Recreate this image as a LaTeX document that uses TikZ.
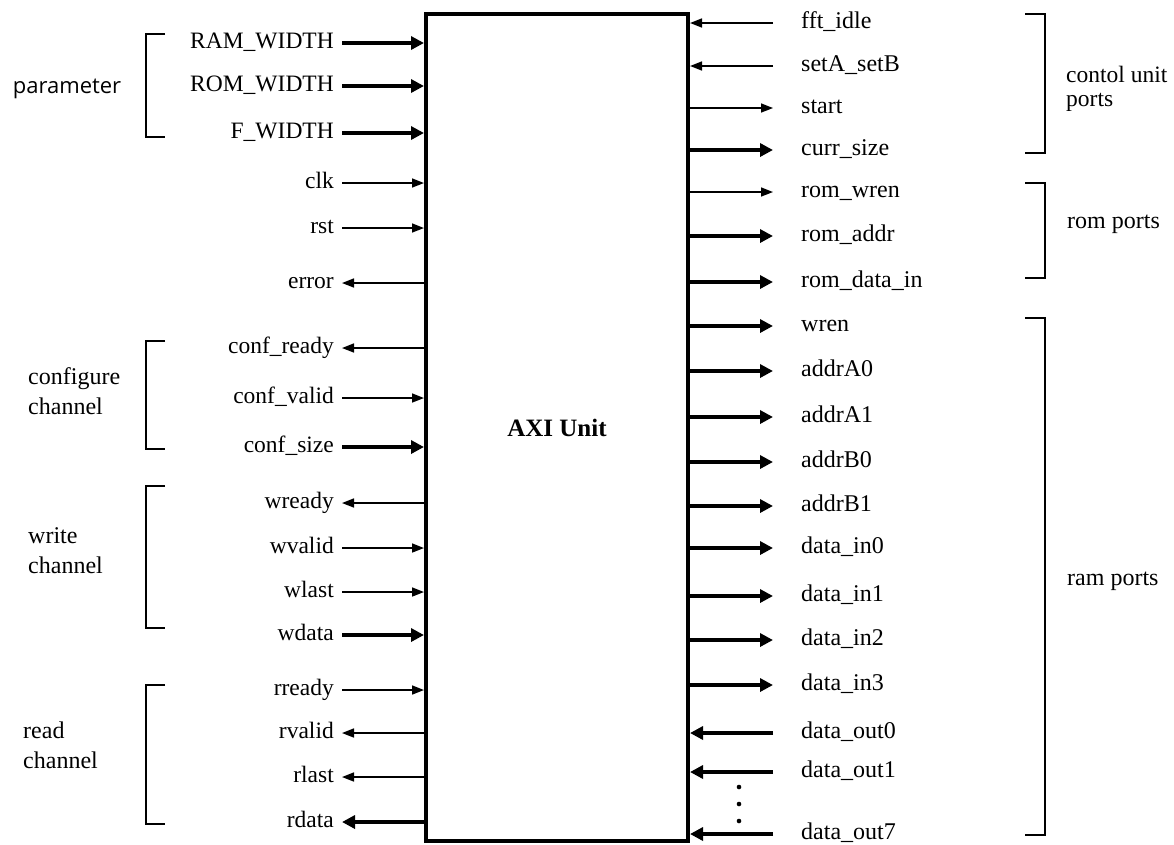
\documentclass[tikz,border=0pt]{standalone}
\usepackage{fontspec}
\setmainfont{Liberation Serif}
\newfontfamily\grpsans{Open Sans}
\usetikzlibrary{arrows.meta,positioning}
\tikzset{
  unitbox/.style={draw,line width=4pt,minimum width=262pt,minimum height=827pt,inner sep=0pt,font=\fontsize{25}{28}\selectfont\bfseries},
  lport/.style={anchor=east,inner xsep=8pt,inner ysep=0pt,text height=10pt,text depth=0pt,font=\fontsize{23.5}{28}\selectfont},
  rport/.style={anchor=west,inner xsep=28pt,inner ysep=0pt,text height=10pt,text depth=0pt,font=\fontsize{24}{28}\selectfont},
  grplabel/.style={align=left,inner sep=0pt,font=\fontsize{24}{30}\selectfont},
  sig/.style={line width=1.6pt,-{Triangle[length=12pt,width=9pt]}},
  bus/.style={line width=4.5pt,-{Triangle[length=13pt,width=13pt]}},
  brk/.style={line width=1.4pt},
}
\begin{document}
\begin{tikzpicture}[x=1pt,y=-1pt]
\useasboundingbox (0,0) rectangle (1174,844);

\node[unitbox] (axi) at (557,427.5) {AXI Unit};

% left side ports
\node[lport] (ramw) at (342,43) {RAM\_WIDTH};
\node[lport] (romw) at (342,86) {ROM\_WIDTH};
\node[lport] (fw) at (342,133) {F\_WIDTH};
\node[lport] (clk) at (342,183) {clk};
\node[lport] (rst) at (342,228) {rst};
\node[lport] (err) at (342,283) {error};
\node[lport] (confready) at (342,348) {conf\_ready};
\node[lport] (confvalid) at (342,398) {conf\_valid};
\node[lport] (confsize) at (342,447) {conf\_size};
\node[lport] (wready) at (342,503) {wready};
\node[lport] (wvalid) at (342,548) {wvalid};
\node[lport] (wlast) at (342,592) {wlast};
\node[lport] (wdata) at (342,635) {wdata};
\node[lport] (rready) at (342,690) {rready};
\node[lport] (rvalid) at (342,733) {rvalid};
\node[lport] (rlast) at (342,777) {rlast};
\node[lport] (rdata) at (342,822) {rdata};

\draw[bus] (ramw) -- (ramw -| axi.west);
\draw[bus] (romw) -- (romw -| axi.west);
\draw[bus] (fw) -- (fw -| axi.west);
\draw[sig] (clk) -- (clk -| axi.west);
\draw[sig] (rst) -- (rst -| axi.west);
\draw[sig] (err -| axi.west) -- (err);
\draw[sig] (confready -| axi.west) -- (confready);
\draw[sig] (confvalid) -- (confvalid -| axi.west);
\draw[bus] (confsize) -- (confsize -| axi.west);
\draw[sig] (wready -| axi.west) -- (wready);
\draw[sig] (wvalid) -- (wvalid -| axi.west);
\draw[sig] (wlast) -- (wlast -| axi.west);
\draw[bus] (wdata) -- (wdata -| axi.west);
\draw[sig] (rready) -- (rready -| axi.west);
\draw[sig] (rvalid -| axi.west) -- (rvalid);
\draw[sig] (rlast -| axi.west) -- (rlast);
\draw[bus] (rdata -| axi.west) -- (rdata);

% right side ports
\node[rport] (fftidle) at (773,23) {fft\_idle};
\node[rport] (setab) at (773,66) {setA\_setB};
\node[rport] (start) at (773,108) {start};
\node[rport] (currsize) at (773,150) {curr\_size};
\node[rport] (romwren) at (773,192) {rom\_wren};
\node[rport] (romaddr) at (773,236) {rom\_addr};
\node[rport] (romdin) at (773,282) {rom\_data\_in};
\node[rport] (wren) at (773,326) {wren};
\node[rport] (addra0) at (773,371) {addrA0};
\node[rport] (addra1) at (773,417) {addrA1};
\node[rport] (addrb0) at (773,462) {addrB0};
\node[rport] (addrb1) at (773,506) {addrB1};
\node[rport] (din0) at (773,548) {data\_in0};
\node[rport] (din1) at (773,596) {data\_in1};
\node[rport] (din2) at (773,640) {data\_in2};
\node[rport] (din3) at (773,685) {data\_in3};
\node[rport] (dout0) at (773,733) {data\_out0};
\node[rport] (dout1) at (773,772) {data\_out1};
\node[rport] (dout7) at (773,834) {data\_out7};

\draw[sig] (fftidle) -- (fftidle -| axi.east);
\draw[sig] (setab) -- (setab -| axi.east);
\draw[sig] (start -| axi.east) -- (start);
\draw[bus] (currsize -| axi.east) -- (currsize);
\draw[sig] (romwren -| axi.east) -- (romwren);
\draw[bus] (romaddr -| axi.east) -- (romaddr);
\draw[bus] (romdin -| axi.east) -- (romdin);
\draw[bus] (wren -| axi.east) -- (wren);
\draw[bus] (addra0 -| axi.east) -- (addra0);
\draw[bus] (addra1 -| axi.east) -- (addra1);
\draw[bus] (addrb0 -| axi.east) -- (addrb0);
\draw[bus] (addrb1 -| axi.east) -- (addrb1);
\draw[bus] (din0 -| axi.east) -- (din0);
\draw[bus] (din1 -| axi.east) -- (din1);
\draw[bus] (din2 -| axi.east) -- (din2);
\draw[bus] (din3 -| axi.east) -- (din3);
\draw[bus] (dout0) -- (dout0 -| axi.east);
\draw[bus] (dout1) -- (dout1 -| axi.east);
\draw[bus] (dout7) -- (dout7 -| axi.east);

% dots between data_out1 and data_out7
\fill (739,787) circle (2.3pt) (739,804) circle (2.3pt) (739,821) circle (2.3pt);

% group brackets
\draw[brk] (165,34) -| (146,137) -- (165,137);
\draw[brk] (165,341) -| (146,449) -- (165,449);
\draw[brk] (165,486) -| (146,628) -- (165,628);
\draw[brk] (165,685) -| (146,824) -- (165,824);
\draw[brk] (1025,14) -| (1045,153) -- (1025,153);
\draw[brk] (1025,183) -| (1045,278) -- (1025,278);
\draw[brk] (1025,318) -| (1045,835) -- (1025,835);

% group labels
\node[grplabel,font=\grpsans\fontsize{22}{26}\selectfont] (param) at (67,89) {parameter};
\node[grplabel,anchor=west] (confch) at (28,391) {configure\\channel};
\node[grplabel,anchor=west] (writech) at (28,551) {write\\channel};
\node[grplabel,anchor=west] (readch) at (23,745) {read\\channel};
\node[grplabel,anchor=west,font=\fontsize{23.5}{23.5}\selectfont] (ctrlports) at (1066,89) {contol unit\\ports};
\node[grplabel,anchor=west] (romports) at (1067,224) {rom ports};
\node[grplabel,anchor=west] (ramports) at (1067,581) {ram ports};

\end{tikzpicture}
\end{document}
